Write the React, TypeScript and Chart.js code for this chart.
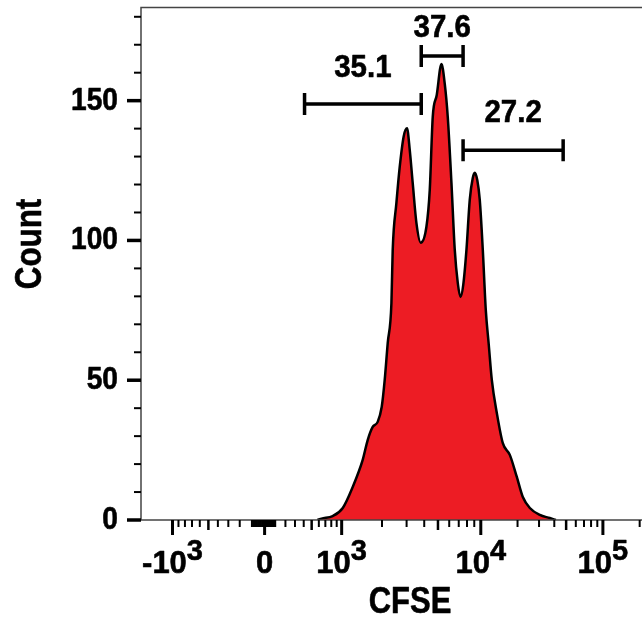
import React, { useEffect, useRef } from "react";
import { Chart, LinearScale, registerables } from "chart.js";

Chart.register(...registerables);

// ---------------- data ----------------
const CFSE_VALUES = [
  580, 640, 825, 1020, 1216, 1445, 1573, 1712, 1861, 1990,
  2092, 2199, 2338, 2388, 2538, 2680, 2862, 3021, 3158, 3316,
  3523, 3778, 4145, 4375, 4594, 4902, 5290, 5582, 5859, 6222,
  6564, 6891, 7199, 7530, 7930, 8365, 8783, 9071, 9447, 9836,
  10386, 10990, 11630, 12310, 13530, 15150, 17290, 19730, 22100, 25220,
  30460, 36770, 41200,
];
const COUNTS = [
  0, 0.5, 1.4, 4.3, 11.8, 21.5, 28.6, 33.3, 35.1, 40.4,
  50.1, 63.3, 77.6, 96.6, 113.4, 126.3, 137.3, 140.1, 132.4, 120.5,
  106.2, 99.2, 104.9, 118.0, 144.2, 152, 163.1, 156, 144.2, 120.5,
  96.6, 84.8, 79.8, 84.1, 96.6, 114.5, 122.3, 124.2, 121.6, 114.5,
  96.6, 75.1, 62.6, 50.1, 38.3, 27.5, 23.3, 15.4, 8.2, 4.3,
  1.8, 0.7, 0,
];

const GATE_LABELS = ["35.1", "37.6", "27.2"];
const GATE_FROM = [410, 3810, 7510];
const GATE_TO = [3810, 7510, 47270];
const GATE_LEVEL = [148.8, 166.0, 132.3];
const GATE_LABEL_LEVEL = [158.4, 172.7, 142.5];

const Y_MAX = 183.5;
const X_MIN = -1700;
const X_MAX = 209000;

const Y_MAJOR_TICKS = [0, 50, 100, 150];
const Y_TICK_LABELS = ["0", "50", "100", "150"];
const Y_MINOR_TICKS = [10, 20, 30, 40, 60, 70, 80, 90, 110, 120, 130, 140, 160, 170, 180];

const X_MAJOR_TICKS = [-1000, 0, 1000, 10000, 100000];
const X_TICK_BASES = ["-10", "0", "10", "10", "10"];
const X_TICK_EXPONENTS = ["3", "", "3", "4", "5"];
const X_MID_TICKS = [-500, 500, 5000, 50000];
const X_MINOR_TICKS = [
  -900, -800, -700, -600, -400, -300, -200, -100,
  -90, -80, -70, -60, -50, -40, -30, -20, -10,
  10, 20, 30, 40, 50, 60, 70, 80, 90,
  100, 200, 300, 400, 600, 700, 800, 900,
  2000, 3000, 4000, 6000, 7000, 8000, 9000,
  20000, 30000, 40000, 60000, 70000, 80000, 90000,
  200000,
];

const X_TITLE = "CFSE";
const Y_TITLE = "Count";

// biexponential display transform (axis definition)
const BIEX_WIDTH = 500;
const BIEX_ANCHOR_VALUES = [-1000, 0, 1000, 10000, 100000];
const BIEX_ANCHOR_UNITS = [-92, 0, 77, 216, 338];

const FONT_FAMILY = '"Liberation Sans", Arial, Helvetica, sans-serif';
const FILL_COLOR = "#ED1C24";

// ---------------- biexponential scale ----------------
const anchorU = BIEX_ANCHOR_VALUES.map((v) => Math.asinh(v / BIEX_WIDTH));

function segIndex(arr: number[], t: number) {
  let i = 0;
  while (i < arr.length - 2 && t > arr[i + 1]) i++;
  return i;
}

function biex(v: number) {
  const u = Math.asinh(v / BIEX_WIDTH);
  const i = segIndex(anchorU, u);
  const f = (u - anchorU[i]) / (anchorU[i + 1] - anchorU[i]);
  return BIEX_ANCHOR_UNITS[i] + f * (BIEX_ANCHOR_UNITS[i + 1] - BIEX_ANCHOR_UNITS[i]);
}

function biexInverse(d: number) {
  const i = segIndex(BIEX_ANCHOR_UNITS, d);
  const f = (d - BIEX_ANCHOR_UNITS[i]) / (BIEX_ANCHOR_UNITS[i + 1] - BIEX_ANCHOR_UNITS[i]);
  const u = anchorU[i] + f * (anchorU[i + 1] - anchorU[i]);
  return BIEX_WIDTH * Math.sinh(u);
}

class BiexScale extends LinearScale {
  static id = "biex";
  static defaults = {};
  getPixelForValue(value: number) {
    const lo = biex((this as any).min);
    const hi = biex((this as any).max);
    return (this as any).getPixelForDecimal((biex(value) - lo) / (hi - lo));
  }
  getValueForPixel(pixel: number) {
    const lo = biex((this as any).min);
    const hi = biex((this as any).max);
    return biexInverse(lo + (this as any).getDecimalForPixel(pixel) * (hi - lo));
  }
}
Chart.register(BiexScale as any);

function drawText(
  ctx: CanvasRenderingContext2D,
  text: string,
  x: number,
  y: number,
  size: number,
  sx: number,
  align: CanvasTextAlign,
  rotate = 0
) {
  ctx.save();
  ctx.font = `bold ${size}px ${FONT_FAMILY}`;
  ctx.textAlign = align;
  ctx.textBaseline = "alphabetic";
  ctx.translate(x, y);
  if (rotate) ctx.rotate(rotate);
  ctx.scale(sx, 1);
  ctx.fillStyle = "#000";
  ctx.strokeStyle = "#000";
  ctx.lineWidth = 0.6;
  ctx.lineJoin = "round";
  ctx.fillText(text, 0, 0);
  ctx.strokeText(text, 0, 0);
  ctx.restore();
}

// ---------------- decorations (axes, labels, gates) ----------------
const decorPlugin = {
  id: "flowDecor",
  afterDatasetsDraw(chart: any) {
    const { ctx, chartArea: a } = chart;
    const xs = chart.scales.x;
    const ys = chart.scales.y;
    ctx.save();

    // frame
    ctx.strokeStyle = "#444";
    ctx.lineWidth = 1.5;
    ctx.beginPath();
    ctx.moveTo(a.right, a.top + 0.5);
    ctx.lineTo(a.left, a.top + 0.5);
    ctx.lineTo(a.left, a.bottom);
    ctx.lineTo(a.right, a.bottom);
    ctx.stroke();

    ctx.strokeStyle = "#000";
    const yTick = (v: number, len: number, w: number) => {
      const py = ys.getPixelForValue(v);
      ctx.lineWidth = w;
      ctx.beginPath();
      ctx.moveTo(a.left - len, py);
      ctx.lineTo(a.left, py);
      ctx.stroke();
    };
    Y_MINOR_TICKS.forEach((v) => yTick(v, 7, 2));
    Y_MAJOR_TICKS.forEach((v) => yTick(v, 14, 3.5));

    const xTick = (v: number, len: number, w: number) => {
      const px = xs.getPixelForValue(v);
      if (px < a.left || px > a.right + 1) return;
      ctx.lineWidth = w;
      ctx.beginPath();
      ctx.moveTo(px, a.bottom);
      ctx.lineTo(px, a.bottom + len);
      ctx.stroke();
    };
    X_MINOR_TICKS.forEach((v) => xTick(v, 7, 2));
    X_MID_TICKS.forEach((v) => xTick(v, 10, 2.5));
    X_MAJOR_TICKS.forEach((v) => xTick(v, 15, 3));

    // y tick labels
    Y_MAJOR_TICKS.forEach((v, i) => {
      drawText(ctx, Y_TICK_LABELS[i], a.left - 23, ys.getPixelForValue(v) + 9, 32, 0.88, "right");
    });

    // x tick labels with superscripts
    X_MAJOR_TICKS.forEach((v, i) => {
      const px = xs.getPixelForValue(v);
      const base = X_TICK_BASES[i];
      const exp = X_TICK_EXPONENTS[i];
      ctx.font = `bold 31px ${FONT_FAMILY}`;
      const wb = ctx.measureText(base).width;
      ctx.font = `bold 29px ${FONT_FAMILY}`;
      const we = exp ? ctx.measureText(exp).width : 0;
      const left = px - (wb + we) / 2;
      drawText(ctx, base, left, a.bottom + 53, 31, 1, "left");
      if (exp) drawText(ctx, exp, left + wb, a.bottom + 40, 29, 1, "left");
    });

    // axis titles
    drawText(ctx, X_TITLE, 410, 613, 36, 0.86, "center");
    drawText(ctx, Y_TITLE, 41, 244, 36, 0.87, "center", -Math.PI / 2);

    // gates
    GATE_LABELS.forEach((lab, i) => {
      const x1 = xs.getPixelForValue(GATE_FROM[i]);
      const x2 = xs.getPixelForValue(GATE_TO[i]);
      const gy = ys.getPixelForValue(GATE_LEVEL[i]);
      ctx.strokeStyle = "#000";
      ctx.lineWidth = 3.5;
      ctx.beginPath();
      ctx.moveTo(x1, gy);
      ctx.lineTo(x2, gy);
      ctx.moveTo(x1, gy - 11);
      ctx.lineTo(x1, gy + 11);
      ctx.moveTo(x2, gy - 11);
      ctx.lineTo(x2, gy + 11);
      ctx.stroke();
      drawText(ctx, lab, (x1 + x2) / 2, ys.getPixelForValue(GATE_LABEL_LEVEL[i]), 31, 0.95, "center");
    });

    ctx.restore();
  },
};

export default function App() {
  const ref = useRef<HTMLCanvasElement>(null);
  useEffect(() => {
    const chart = new Chart(ref.current as HTMLCanvasElement, {
      type: "line",
      data: {
        datasets: [
          {
            data: CFSE_VALUES.map((v, i) => ({ x: v, y: COUNTS[i] })),
            borderColor: "#000",
            borderWidth: 2.5,
            backgroundColor: FILL_COLOR,
            fill: "origin",
            pointRadius: 0,
            cubicInterpolationMode: "monotone",
          } as any,
        ],
      },
      options: {
        responsive: false,
        animation: false,
        events: [],
        layout: { padding: { left: 141, top: 7, right: 0, bottom: 102 } },
        plugins: { legend: { display: false }, tooltip: { enabled: false } },
        scales: {
          x: { type: "biex" as any, min: X_MIN, max: X_MAX, display: false, bounds: "data" },
          y: { type: "linear", min: 0, max: Y_MAX, display: false, bounds: "data" },
        },
      } as any,
      plugins: [decorPlugin],
    });
    return () => chart.destroy();
  }, []);
  return (
    <div style={{ position: "fixed", left: 0, top: 0, width: 642, height: 622, background: "#fff" }}>
      <canvas ref={ref} width={642} height={622} style={{ display: "block" }} />
    </div>
  );
}
